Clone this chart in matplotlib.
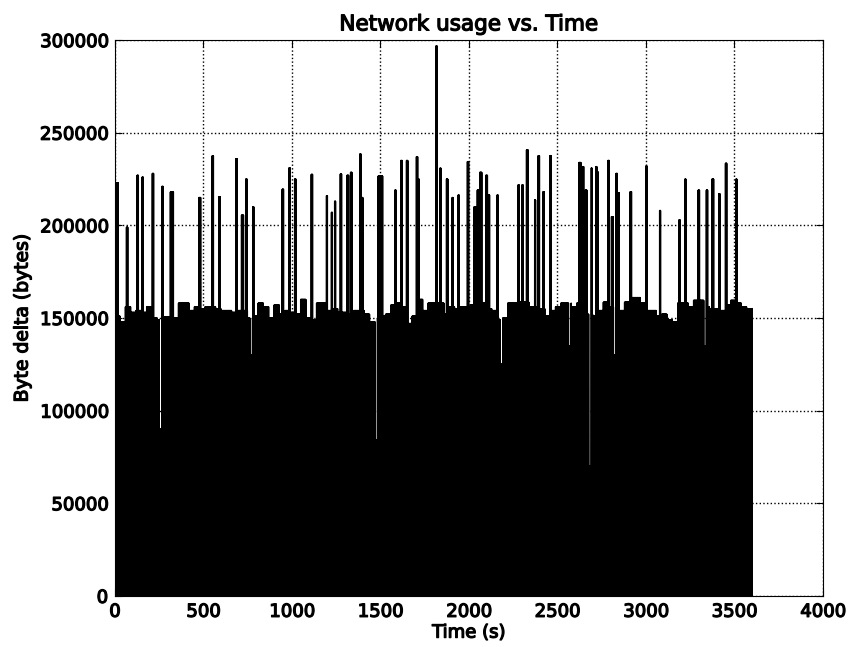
import matplotlib
matplotlib.use('Agg')
import matplotlib.pyplot as plt
import matplotlib.patheffects as pe
import numpy as np

# Byte delta sampled once per second, 0..3600 s.
# Upper edge of the dense band, one level per 30 s block (read from picture)
block_start = list(range(0, 3601, 30))
band_top = [151000, 148000, 156000, 153000, 154000, 153000, 156000, 150000, 149000, 150700,
            150500, 150000, 158000, 158000, 154000, 156000, 155000, 156000, 156000, 155000,
            154000, 154000, 153000, 154000, 154000, 150000, 151000, 158000, 156000, 150000,
            157000, 152000, 154000, 153000, 152000, 160000, 150000, 149000, 158000, 158000,
            154000, 155000, 153000, 153000, 152000, 154000, 154000, 152000, 148000, 150000,
            151000, 152000, 157000, 158000, 156000, 147000, 151000, 160000, 154000, 158000,
            158000, 158000, 152000, 156000, 155000, 156000, 156000, 157000, 154000, 158000,
            155000, 154000, 149000, 150000, 158000, 158000, 158500, 158500, 156000, 156000,
            155000, 151000, 154000, 156000, 158000, 158000, 156000, 158000, 158000, 152000,
            151000, 154000, 158500, 156000, 152000, 154000, 158500, 161000, 161000, 158000,
            154000, 154000, 151000, 152000, 149000, 148000, 158000, 158000, 156000, 159500,
            159500, 156000, 155000, 155000, 154000, 157000, 159500, 158000, 156000, 155000,
            155000]

# bursts above the band: time (s), height (bytes), width (s)
spike_t = [5, 66, 126, 154, 213, 264, 314, 476, 550, 589, 684, 716, 740, 781,
           947, 985, 1017, 1111, 1196, 1224, 1243, 1275, 1313, 1332, 1384, 1397,
           1488, 1582, 1616, 1648, 1704, 1714, 1817, 1836, 1874, 1907, 1940, 1992,
           2030, 2049, 2062, 2096, 2113, 2160, 2279, 2301, 2326, 2373, 2392, 2420,
           2458, 2571, 2623, 2640, 2659, 2688, 2718, 2725, 2787, 2806, 2831, 2844,
           2913, 3000, 3079, 3188, 3220, 3296, 3343, 3375, 3412, 3450, 3508]
spike_v = [223000, 199000, 227000, 226000, 228000, 221000, 218000, 215000, 237500, 215500,
           236000, 205500, 225000, 210000, 219500, 231000, 225000, 227500, 216000, 207000,
           213000, 227700, 227000, 228600, 238500, 215000, 226600, 219000, 235000, 235000,
           237000, 225000, 297000, 230800, 225000, 215000, 216400, 234400, 210000, 219000,
           228600, 227000, 216400, 216400, 221800, 221800, 240700, 213700, 237600, 218200,
           237600, 230800, 233900, 231700, 219000, 231000, 231700, 229000, 235000, 204700,
           228000, 217600, 218200, 232000, 208000, 203000, 224900, 219000, 219000, 225000,
           217000, 233500, 224900]
spike_w = [14, 6, 6, 6, 6, 8, 16, 8, 6, 6, 6, 10, 6, 4,
           6, 6, 6, 6, 4, 4, 4, 6, 8, 6, 6, 4,
           24, 6, 6, 6, 6, 4, 2, 6, 6, 4, 4, 6,
           8, 8, 10, 8, 4, 4, 6, 6, 8, 4, 6, 4,
           6, 6, 10, 8, 8, 6, 6, 4, 6, 8, 8, 4,
           6, 6, 4, 4, 6, 6, 6, 8, 6, 6, 6]

# short drops inside the band: time (s), level (bytes)
dip_t = [252, 765, 1470, 2178, 2565, 2678, 2819, 3328]
dip_v = [90000, 130000, 84000, 125000, 135000, 70000, 130000, 135000]

t = np.arange(0, 3601)
y = np.zeros(len(t))
blk = np.searchsorted(block_start, t, side='right') - 1
y[::2] = np.array(band_top)[blk[::2]]
for st, sv, sw in zip(spike_t, spike_v, spike_w):
    y[st - st % 2: st - st % 2 + sw + 1: 2] = sv
for dt, dv in zip(dip_t, dip_v):
    y[dt - dt % 2: dt - dt % 2 + 13: 2] = dv

heavy = [pe.withStroke(linewidth=0.9, foreground='k')]

fig = plt.figure(figsize=(8.51, 6.47), dpi=100)
ax = fig.add_axes([0.135, 0.079, 0.832, 0.859])
ax.plot(t, y, '-', c='k', lw=1.1)

ax.set_xlim(0, 4000)
ax.set_ylim(0, 300000)
ax.set_xticks(range(0, 4001, 500))
ax.set_yticks(range(0, 300001, 50000))
ax.grid(True, linestyle=':', color='k', lw=1)
ax.tick_params(direction='in', top=True, right=True, length=5, labelsize=13, pad=5)
for lab in ax.get_xticklabels() + ax.get_yticklabels():
    lab.set_path_effects(heavy)
ax.set_title('Network usage vs. Time', fontsize=15.5, pad=7, path_effects=heavy)
ax.set_xlabel('Time (s)', fontsize=13, labelpad=2, path_effects=heavy)
ax.set_ylabel('Byte delta (bytes)', fontsize=13.5, labelpad=6, path_effects=heavy)

fig.savefig('out.png', dpi=100)
